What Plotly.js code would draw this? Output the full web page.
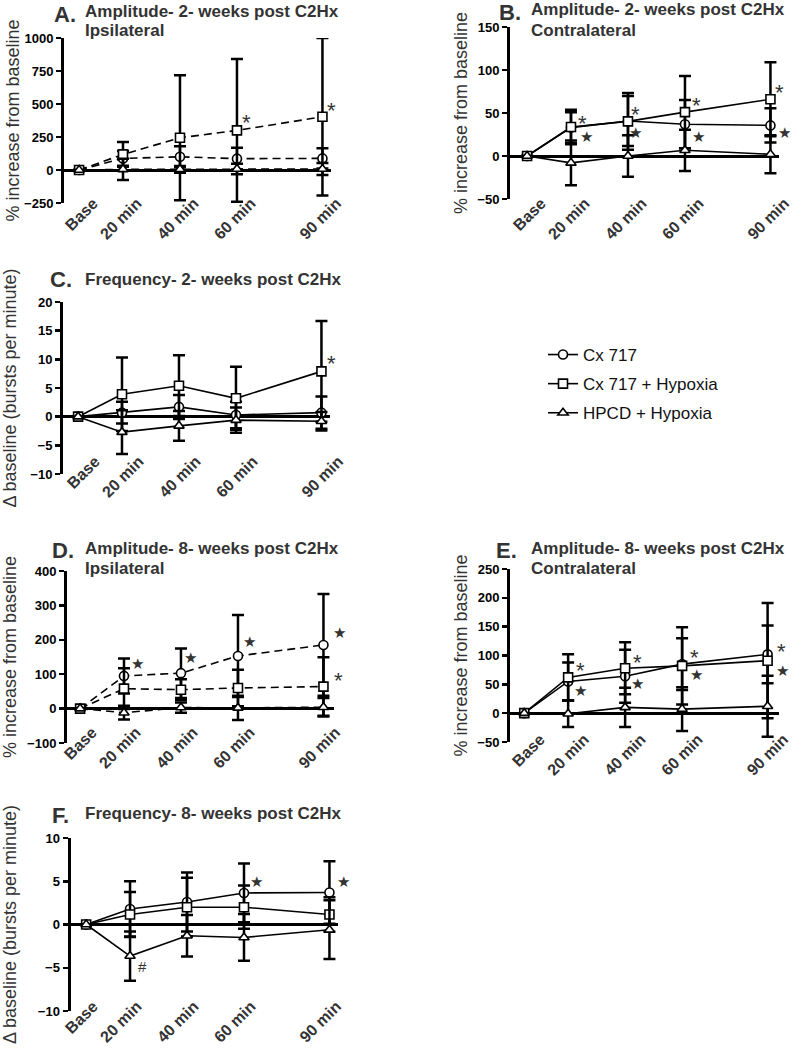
<!DOCTYPE html>
<html>
<head>
<meta charset="utf-8">
<script src="https://cdn.plot.ly/plotly-3.0.1.min.js"></script>
<style>
  html, body { margin: 0; padding: 0; background: #fff; }
  #figure { width: 794px; height: 1050px; }
</style>
</head>
<body>
<div id="figure"></div>
<script>
// x axis: time points after hypoxia
const time_labels = ['Base', '20 min', '40 min', '60 min', '90 min'];
const time_points = [4.6, 20, 40, 60, 90];

const group_names = ['Cx 717', 'Cx 717 + Hypoxia', 'HPCD + Hypoxia'];

// A. amplitude, 2 weeks, ipsilateral (% increase from baseline)
const amp2_ipsi_cx717 = [0, 88, 100, 86, 88];
const amp2_ipsi_cx717_sd = [0, 55, 80, 83, 76];
const amp2_ipsi_cxhyp = [0, 118, 244, 300, 403];
const amp2_ipsi_cxhyp_sd = [0, 94, 474, 541, 597];
const amp2_ipsi_hpcd = [0, 5, 5, 8, 8];
const amp2_ipsi_hpcd_sd = [0, 80, 25, 40, 45];

// B. amplitude, 2 weeks, contralateral
const amp2_contra_cx717 = [0, 33, 40.7, 37, 35.6];
const amp2_contra_cx717_sd = [0, 18, 29, 28, 20];
const amp2_contra_cxhyp = [0, 33.7, 40.3, 51, 66];
const amp2_contra_cxhyp_sd = [0, 20, 33, 42, 43];
const amp2_contra_hpcd = [0, -8, 0, 6.6, 2];
const amp2_contra_hpcd_sd = [0, 26, 24, 24, 22];

// C. frequency, 2 weeks (delta bursts per minute)
const freq2_cx717 = [0, 0.7, 1.7, 0.3, 0.7];
const freq2_cx717_sd = [0, 1.9, 2.1, 2.3, 2.8];
const freq2_cxhyp = [0, 3.9, 5.4, 3.2, 7.9];
const freq2_cxhyp_sd = [0, 6.4, 5.3, 5.5, 8.8];
const freq2_hpcd = [0, -2.7, -1.6, -0.6, -0.8];
const freq2_hpcd_sd = [0, 3.8, 2.6, 2.2, 1.6];

// D. amplitude, 8 weeks, ipsilateral
const amp8_ipsi_cx717 = [0, 95, 103, 153, 185];
const amp8_ipsi_cx717_sd = [0, 51, 72, 119, 148];
const amp8_ipsi_cxhyp = [0, 58, 55, 60, 64];
const amp8_ipsi_cxhyp_sd = [0, 59, 30, 53, 85];
const amp8_ipsi_hpcd = [0, -12, 3, 2, 4];
const amp8_ipsi_hpcd_sd = [0, 20, 15, 35, 27];

// E. amplitude, 8 weeks, contralateral
const amp8_contra_cx717 = [0, 55, 64, 85, 102];
const amp8_contra_cx717_sd = [0, 33, 46, 45, 50];
const amp8_contra_cxhyp = [0, 62, 78, 82, 91];
const amp8_contra_cxhyp_sd = [0, 40, 45, 67, 100];
const amp8_contra_hpcd = [0, -1, 10, 7, 12];
const amp8_contra_hpcd_sd = [0, 23, 34, 38, 53];

// F. frequency, 8 weeks
const freq8_cx717 = [0, 1.8, 2.6, 3.65, 3.7];
const freq8_cx717_sd = [0, 3.2, 3.4, 3.4, 3.6];
const freq8_cxhyp = [0, 1.15, 2.0, 2.0, 1.15];
const freq8_cxhyp_sd = [0, 2.6, 3.4, 2.5, 2.0];
const freq8_hpcd = [0, -3.65, -1.3, -1.5, -0.6];
const freq8_hpcd_sd = [0, 2.85, 2.4, 2.7, 3.4];

// significance marks: panel, time, value, symbol
const sig_panels = ['A', 'A', 'B', 'B', 'B', 'B', 'B', 'B', 'B', 'B', 'C',
                    'D', 'D', 'D', 'D', 'D', 'E', 'E', 'E', 'E', 'E', 'E', 'E', 'E',
                    'F', 'F', 'F'];
const sig_times = [63.5, 93.3, 24.2, 25.3, 42.5, 42.5, 64.2, 64.6, 93.3, 95.1, 93.7,
                   24.6, 43.5, 64.2, 95.8, 95.4, 24.2, 24.2, 44.2, 44.5, 64.5, 65.2, 95, 95.4,
                   64.5, 95, 24.2];
const sig_values = [394, 492, 44, 22, 53.5, 26.7, 65, 22, 80, 26.7, 10.2,
                    130, 147, 194, 220, 95, 83, 38, 96, 50, 106, 66, 116, 73,
                    4.9, 4.9, -4.8];
const sig_texts = ['*', '*', '*', '★', '*', '★', '*', '★', '*', '★', '*',
                   '★', '★', '★', '★', '*', '*', '★', '*', '★', '*', '★', '*', '★',
                   '★', '★', '#'];

const W = 794, H = 1050;
const PX_PER_MIN = 2.85;
const px_x = p => p / W;
const px_y = p => 1 - p / H;

const FONT = 'Liberation Sans, Arial, sans-serif';
const PCT_TITLE = '% increase from baseline';
const FREQ_TITLE = 'Δ baseline (bursts per minute)';

// panel layout: pixel boxes of each plot area
// lift / shift: where the rotated x labels sit relative to the plot bottom and ticks
const panels = [
    { key: 'A', suffix: '', dash: '8px,5px', box: [64, 331, 38, 203], xr: [-0.7, 93],
      yr: [-250, 1000], dtick: 250, ytitle: PCT_TITLE, standoff: 0, lift: 13, shift: 14,
      data: [[amp2_ipsi_cx717, amp2_ipsi_cx717_sd], [amp2_ipsi_cxhyp, amp2_ipsi_cxhyp_sd], [amp2_ipsi_hpcd, amp2_ipsi_hpcd_sd]],
      title: ['Amplitude- 2- weeks post C2Hx', 'Ipsilateral'], letter: [52, 15], tpos: [83, 11] },
    { key: 'B', suffix: '2', dash: 'solid', box: [510, 779, 27, 199], xr: [-1.4, 93],
      yr: [-50, 150], dtick: 50, ytitle: PCT_TITLE, standoff: 6, lift: 9, shift: 14,
      data: [[amp2_contra_cx717, amp2_contra_cx717_sd], [amp2_contra_cxhyp, amp2_contra_cxhyp_sd], [amp2_contra_hpcd, amp2_contra_hpcd_sd]],
      title: ['Amplitude- 2- weeks post C2Hx', 'Contralateral'], letter: [497, 12], tpos: [529, 10] },
    { key: 'C', suffix: '3', dash: 'solid', box: [63, 330, 302, 474], xr: [-0.7, 93],
      yr: [-10, 20], dtick: 5, ytitle: FREQ_TITLE, standoff: 14, lift: 26, shift: 17,
      data: [[freq2_cx717, freq2_cx717_sd], [freq2_cxhyp, freq2_cxhyp_sd], [freq2_hpcd, freq2_hpcd_sd]],
      title: ['Frequency- 2- weeks post C2Hx'], letter: [48, 279], tpos: [83, 279] },
    { key: 'D', suffix: '4', dash: '8px,5px', box: [67, 334, 571, 743], xr: [0, 93.7],
      yr: [-100, 400], dtick: 100, ytitle: PCT_TITLE, standoff: 9, lift: 24, shift: 12,
      data: [[amp8_ipsi_cx717, amp8_ipsi_cx717_sd], [amp8_ipsi_cxhyp, amp8_ipsi_cxhyp_sd], [amp8_ipsi_hpcd, amp8_ipsi_hpcd_sd]],
      title: ['Amplitude- 8- weeks post C2Hx', 'Ipsilateral'], letter: [50, 550], tpos: [83, 548] },
    { key: 'E', suffix: '5', dash: 'solid', box: [510, 779, 569, 742], xr: [-0.4, 94],
      yr: [-50, 250], dtick: 50, ytitle: PCT_TITLE, standoff: 6, lift: 16, shift: 16,
      data: [[amp8_contra_cx717, amp8_contra_cx717_sd], [amp8_contra_cxhyp, amp8_contra_cxhyp_sd], [amp8_contra_hpcd, amp8_contra_hpcd_sd]],
      title: ['Amplitude- 8- weeks post C2Hx', 'Contralateral'], letter: [494, 550], tpos: [529, 548] },
    { key: 'F', suffix: '6', dash: 'solid', box: [70.5, 338, 838, 1011], xr: [-0.9, 93],
      yr: [-10, 10], dtick: 5, ytitle: FREQ_TITLE, standoff: 18, lift: 18, shift: 7,
      data: [[freq8_cx717, freq8_cx717_sd], [freq8_cxhyp, freq8_cxhyp_sd], [freq8_hpcd, freq8_hpcd_sd]],
      title: ['Frequency- 8- weeks post C2Hx'], letter: [50, 815], tpos: [83, 813] }
];

const symbols = ['circle', 'square', 'triangle-up'];

const build_figure = () => {
    const data = [];
    const annotations = [];
    const layout = {
        width: W, height: H,
        margin: { l: 0, r: 0, t: 0, b: 0 },
        paper_bgcolor: '#fff', plot_bgcolor: 'rgba(0,0,0,0)',
        font: { family: FONT, color: '#333' },
        showlegend: true,
        legend: {
            x: px_x(543), y: px_y(337), xanchor: 'left', yanchor: 'top',
            font: { family: FONT, size: 17, color: '#111' },
            itemwidth: 30, tracegroupgap: 4, bgcolor: 'rgba(0,0,0,0)'
        },
        annotations: annotations
    };

    panels.forEach(panel => {
        const [x0, x1, y0, y1] = panel.box;
        const sx = panel.suffix;

        // x axis floats above the plot bottom so its rotated labels hug the y range
        layout['xaxis' + sx] = {
            domain: [px_x(x0), px_x(x1)],
            range: panel.xr,
            anchor: 'free',
            position: px_y(y1 - panel.lift),
            tickvals: time_points,
            ticktext: time_labels,
            tickangle: -45,
            ticklabelshift: panel.shift,
            ticklabeloverflow: 'allow',
            showline: false, showgrid: false, zeroline: false, ticks: '',
            tickfont: { family: FONT, size: 16, weight: 'bold', color: '#333' }
        };

        layout['yaxis' + sx] = {
            domain: [px_y(y1), px_y(y0)],
            range: panel.yr,
            anchor: 'x' + sx,
            tick0: 0, dtick: panel.dtick,
            showgrid: false,
            showline: true, linewidth: 3, linecolor: '#000',
            zeroline: true, zerolinewidth: 3, zerolinecolor: '#000',
            ticks: 'outside', ticklen: 5, tickwidth: 2.5, tickcolor: '#000',
            tickfont: { family: FONT, size: 13, weight: 'bold', color: '#000' },
            title: {
                text: panel.ytitle, standoff: panel.standoff,
                font: { family: FONT, size: 18, color: '#333' }
            }
        };

        // one trace per treatment group
        panel.data.forEach(([values, sd], i) => {
            data.push({
                type: 'scatter',
                mode: 'lines+markers',
                x: time_points,
                y: values,
                name: group_names[i],
                legendgroup: group_names[i],
                showlegend: panel.key === 'B',
                xaxis: 'x' + sx,
                yaxis: 'y' + sx,
                cliponaxis: false,
                line: { color: '#000', width: 1.6, dash: panel.dash },
                marker: {
                    symbol: symbols[i], size: 9, color: '#fff',
                    line: { color: '#000', width: 1.6 }
                },
                error_y: {
                    type: 'data', array: sd, visible: true,
                    color: '#000', thickness: 2.5, width: 6
                }
            });
        });

        // panel letter and title
        annotations.push({
            xref: 'paper', yref: 'paper', x: px_x(panel.letter[0]), y: px_y(panel.letter[1]),
            xanchor: 'left', yanchor: 'middle', showarrow: false,
            text: panel.key + '.', font: { family: FONT, size: 22, weight: 'bold', color: '#333' }
        });
        panel.title.forEach((line, j) => {
            annotations.push({
                xref: 'paper', yref: 'paper', x: px_x(panel.tpos[0]), y: px_y(panel.tpos[1] + 20 * j),
                xanchor: 'left', yanchor: 'middle', showarrow: false,
                text: line, font: { family: FONT, size: 17, weight: 'bold', color: '#333' }
            });
        });
    });

    // significance symbols (anchored inside the axis range, shifted in pixels past 90 min)
    sig_panels.forEach((key, i) => {
        const panel = panels.find(p => p.key === key);
        const is_star = sig_texts[i] === '★';
        const is_ast = sig_texts[i] === '*';
        const anchor_t = Math.min(sig_times[i], 90);
        annotations.push({
            xref: 'x' + panel.suffix, yref: 'y' + panel.suffix,
            x: anchor_t, y: sig_values[i],
            xshift: (sig_times[i] - anchor_t) * PX_PER_MIN,
            yshift: is_ast ? -5 : 0,
            showarrow: false, text: sig_texts[i],
            font: {
                family: is_star ? 'DejaVu Sans' : FONT,
                size: is_ast ? 22 : 15,
                color: '#333'
            }
        });
    });

    return { data, layout };
};

const { data, layout } = build_figure();
Plotly.newPlot('figure', data, layout, { staticPlot: true });
</script>
</body>
</html>
